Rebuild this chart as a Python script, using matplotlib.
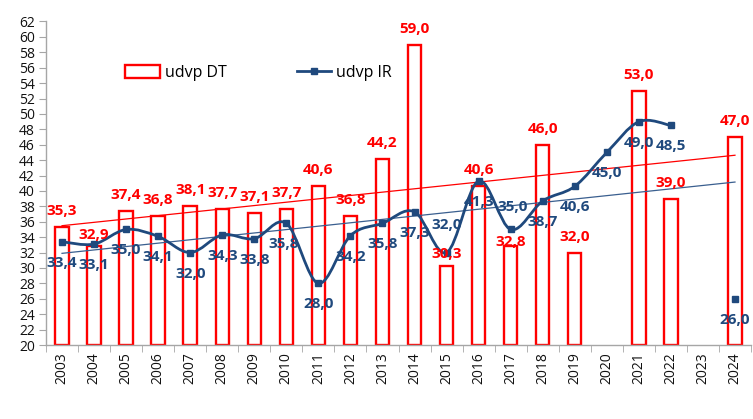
import numpy as np
import matplotlib
matplotlib.use("Agg")
import matplotlib.pyplot as plt
from matplotlib.patches import Patch
from matplotlib.lines import Line2D
from matplotlib.path import Path
from matplotlib.patches import PathPatch

plt.rcParams['font.family'] = ['Open Sans', 'DejaVu Sans']

years = [str(y) for y in range(2003, 2025)]
udvp_dt = [35.3, 32.9, 37.4, 36.8, 38.1, 37.7, 37.1, 37.7, 40.6, 36.8, 44.2,
           59.0, 30.3, 40.6, 32.8, 46.0, 32.0, None, 53.0, 39.0, None, 47.0]
udvp_ir = [33.4, 33.1, 35.0, 34.1, 32.0, 34.3, 33.8, 35.8, 28.0, 34.2, 35.8,
           37.3, 32.0, 41.3, 35.0, 38.7, 40.6, 45.0, 49.0, 48.5, None, 26.0]

RED = '#FF0000'
BLUE = '#1F497D'
DPI = 100
PX = 72.0 / DPI  # points per pixel

fig = plt.figure(figsize=(7.53, 4.19), dpi=DPI)
ax = fig.add_axes([46 / 753, 1 - 345 / 419, 705 / 753, (345 - 21.5) / 419])

x = np.arange(len(years))
ymin, ymax = 20, 62

# bars (udvp DT)
for xi, v in zip(x, udvp_dt):
    if v is None:
        continue
    ax.bar(xi, v - ymin, bottom=ymin, width=0.42, facecolor='white',
           edgecolor=RED, linewidth=1.7, zorder=2)

# linear trend lines
def trend(vals):
    xs = np.array([i for i, v in enumerate(vals) if v is not None], float)
    ys = np.array([v for v in vals if v is not None], float)
    k, b = np.polyfit(xs, ys, 1)
    xx = np.array([0, len(vals) - 1], float)
    return xx, k * xx + b

tx, ty = trend(udvp_dt)
ax.plot(tx, ty, color=RED, linewidth=0.9, zorder=3)
tx, ty = trend(udvp_ir)
ax.plot(tx, ty, color='#3A5F8F', linewidth=0.9, zorder=3)

# smoothed line (udvp IR), Bezier segments through the points
def smooth_path(xs, ys):
    pts = np.column_stack([xs, ys]).astype(float)
    n = len(pts)
    verts = [pts[0]]
    codes = [Path.MOVETO]
    for i in range(n - 1):
        p0 = pts[i - 1] if i > 0 else pts[i]
        p1 = pts[i]
        p2 = pts[i + 1]
        p3 = pts[i + 2] if i + 2 < n else pts[i + 1]
        c1 = p1 + (p2 - p0) / 6.0
        c2 = p2 - (p3 - p1) / 6.0
        verts += [c1, c2, p2]
        codes += [Path.CURVE4] * 3
    return Path(verts, codes)

seg_x = [i for i in range(20)]
seg_y = [udvp_ir[i] for i in seg_x]
ax.add_patch(PathPatch(smooth_path(seg_x, seg_y), facecolor='none',
                       edgecolor=BLUE, linewidth=2.0, zorder=4))
ir_x = [i for i, v in enumerate(udvp_ir) if v is not None]
ir_y = [v for v in udvp_ir if v is not None]
ax.plot(ir_x, ir_y, linestyle='none', marker='s', markersize=4.2,
        color=BLUE, zorder=5)

def fmt(v):
    return f"{v:.1f}".replace('.', ',')

# value labels
dt_off = {14: 4, 12: 12, 1: 11}
for xi, v in zip(x, udvp_dt):
    if v is None:
        continue
    off = dt_off.get(xi, 16)
    ax.annotate(fmt(v), (xi, v), xytext=(0, off * PX), textcoords='offset points',
                ha='center', va='center', color=RED, fontsize=11,
                fontweight='bold', zorder=6)

ir_off = {12: (0, 28), 14: (2, 22), 7: (-3, -21)}
for xi, v in zip(x, udvp_ir):
    if v is None:
        continue
    dx, dy = ir_off.get(xi, (0, -21))
    ax.annotate(fmt(v), (xi, v), xytext=(dx * PX, dy * PX), textcoords='offset points',
                ha='center', va='center', color=BLUE, fontsize=11,
                fontweight='bold', zorder=6)

ax.set_xlim(-0.5, len(years) - 0.5)
ax.set_ylim(ymin, ymax)
ax.set_yticks(range(20, 63, 2))
ax.set_xticks(x)
ax.set_xticklabels(years, rotation=90)
ax.set_xticks(np.arange(-0.5, len(years), 1), minor=True)
ax.tick_params(axis='x', which='major', length=0, pad=5, labelsize=10, labelcolor='#111111')
ax.tick_params(axis='x', which='minor', length=5, color='#A6A6A6', direction='out')
ax.tick_params(axis='y', length=5, color='#A6A6A6', labelsize=10, labelcolor='#111111', pad=3)
for s in ('top', 'right'):
    ax.spines[s].set_visible(False)
for s in ('left', 'bottom'):
    ax.spines[s].set_color('#A6A6A6')
    ax.spines[s].set_linewidth(1.0)

handles = [Patch(facecolor='white', edgecolor=RED, linewidth=1.7),
           Line2D([], [], color=BLUE, linewidth=2.0, marker='s', markersize=4.2)]
fig.legend(handles, ['udvp DT', 'udvp IR'], loc='center left',
           bbox_to_anchor=(111 / 753, 1 - 73 / 419), ncol=2, frameon=False,
           fontsize=11.5, handlelength=2.15, handleheight=0.8, handletextpad=0.3,
           columnspacing=4.4)

fig.savefig('out.png', dpi=DPI)
